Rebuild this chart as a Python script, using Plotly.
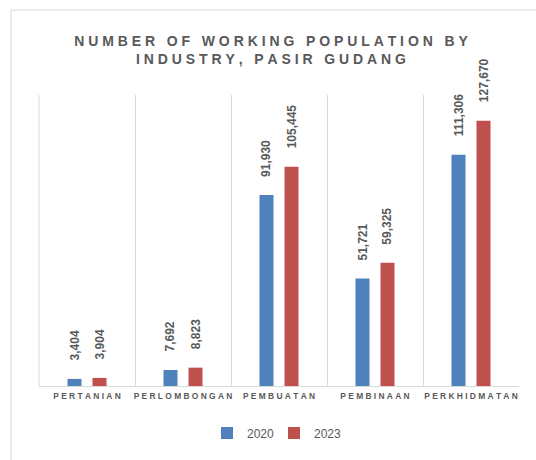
import plotly.graph_objects as go

categories = ["PERTANIAN", "PERLOMBONGAN", "PEMBUATAN", "PEMBINAAN", "PERKHIDMATAN"]
values_2020 = [3404, 7692, 91930, 51721, 111306]
values_2023 = [3904, 8823, 105445, 59325, 127670]
series_names = ["2020", "2023"]
title_lines = ["NUMBER OF WORKING POPULATION BY", "INDUSTRY, PASIR GUDANG"]

NB = "\u00a0"

def spaced(s):
    out = []
    for w in s.split(" "):
        out.append(NB.join(list(w)))
    return (NB * 3).join(out)

tick_text = [spaced(c) for c in categories]
title_text = "<br>".join(spaced(t) for t in title_lines)

W, H = 536, 460
L, R, T, B = 39, 17, 95, 74
pw, ph = W - L - R, H - T - B

colors = ["#4F81BD", "#C0504D"]
gray = "#595959"
grid = "#d9d9d9"

fig = go.Figure()
for name, vals, col in zip(series_names, [values_2020, values_2023], colors):
    fig.add_trace(go.Bar(x=categories, y=vals, name=name, marker_color=col,
                         marker_line_width=0))

# value labels
slot = 25
annotations = []
for i, vals in enumerate([values_2020, values_2023]):
    shift = -slot / 2 if i == 0 else slot / 2
    for c, v in zip(categories, vals):
        annotations.append(dict(
            x=c, y=v, xref="x", yref="y", text=f"{v:,}", showarrow=False,
            textangle=-90, xanchor="center", yanchor="bottom",
            xshift=shift, yshift=16,
            font=dict(family="Liberation Sans, Arial", size=12, color=gray,
                      weight="bold")))

shapes = [
    # outer border (partially cropped)
    dict(type="rect", xref="paper", yref="paper",
         x0=(11 - L) / pw, x1=1.5, y0=-1.0, y1=(H - B - 10) / ph,
         line=dict(color=grid, width=1), fillcolor="rgba(0,0,0,0)",
         layer="below"),
    # left edge gridline of plot area
    dict(type="line", xref="paper", yref="paper", x0=0, x1=0, y0=0, y1=1,
         line=dict(color=grid, width=1), layer="below"),
]

fig.update_layout(
    width=W, height=H,
    margin=dict(l=L, r=R, t=T, b=B),
    paper_bgcolor="white", plot_bgcolor="white",
    barmode="group", bargap=0.479, bargroupgap=0.44,
    title=dict(text=title_text, x=271 / W, xref="container", xanchor="center",
               y=1 - 46 / H, yref="container", yanchor="middle",
               font=dict(family="Liberation Sans, Arial", size=14, color=gray,
                         weight="bold"), automargin=False),
    xaxis=dict(type="category", tickson="boundaries", showgrid=True,
               gridcolor=grid, gridwidth=1, showline=True,
               linecolor=grid, linewidth=1, ticks="",
               tickvals=categories, ticktext=tick_text, tickangle=0,
               automargin=False, ticklabelstandoff=2,
               tickfont=dict(family="Liberation Sans, Arial", size=8.4, color=gray,
                             weight="bold"),
               range=[-0.5, 4.5], fixedrange=True),
    yaxis=dict(range=[0, 140000], showgrid=False, showticklabels=False,
               zeroline=False, showline=False, ticks="", automargin=False),
    legend=dict(orientation="h", x=(274 - L) / pw, xanchor="center",
                y=(H - B - 433) / ph, yanchor="middle",
                font=dict(family="Liberation Sans, Arial", size=12, color=gray),
                itemwidth=30, entrywidth=22, entrywidthmode="pixels",
                traceorder="normal"),
    annotations=annotations,
    shapes=shapes,
    showlegend=True,
)

fig.write_html("out.html")
